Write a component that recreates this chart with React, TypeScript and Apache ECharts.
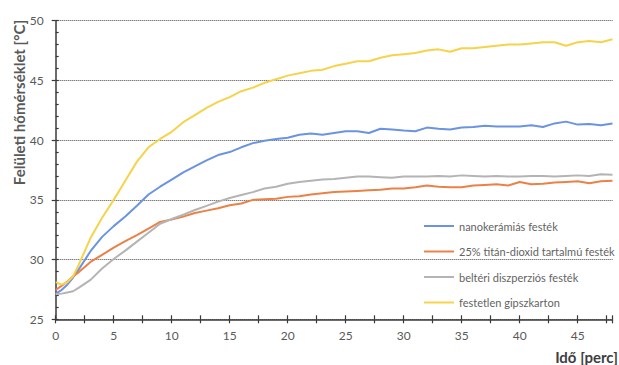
import React, { useEffect, useRef } from "react";
import * as echarts from "echarts";

// Elapsed time of the measurement, in minutes
const minutes = [
  0, 0.5, 1, 1.5, 2, 3, 4, 5, 6, 7, 8, 9, 10, 11, 12, 13, 14, 15, 16, 17, 18, 19, 20,
  21, 22, 23, 24, 25, 26, 27, 28, 29, 30, 31, 32, 33, 34, 35, 36, 37, 38, 39, 40, 41,
  42, 43, 44, 45, 46, 47, 48,
];

// Surface temperature (°C) of each coating
const nanoCeramic = [
  27.15, 27.45, 27.9, 28.5, 29.2, 30.7, 31.9, 32.8, 33.6, 34.5, 35.45, 36.1, 36.7, 37.3,
  37.8, 38.3, 38.75, 39.0, 39.4, 39.75, 39.95, 40.1, 40.2, 40.45, 40.55, 40.45, 40.6,
  40.75, 40.75, 40.6, 40.95, 40.9, 40.8, 40.75, 41.05, 40.95, 40.9, 41.05, 41.1, 41.2,
  41.15, 41.15, 41.15, 41.25, 41.1, 41.4, 41.55, 41.3, 41.35, 41.25, 41.4,
];
const titaniumDioxide = [
  27.45, 27.8, 28.15, 28.6, 28.95, 29.8, 30.4, 31.0, 31.55, 32.05, 32.6, 33.15, 33.35,
  33.6, 33.9, 34.1, 34.3, 34.55, 34.7, 35.0, 35.05, 35.1, 35.25, 35.3, 35.45, 35.55,
  35.65, 35.7, 35.75, 35.8, 35.85, 35.95, 35.95, 36.05, 36.2, 36.1, 36.05, 36.05, 36.2,
  36.25, 36.3, 36.2, 36.5, 36.3, 36.35, 36.45, 36.5, 36.55, 36.4, 36.55, 36.6,
];
const interiorDispersion = [
  27.1, 27.15, 27.25, 27.35, 27.65, 28.3, 29.25, 30.05, 30.75, 31.5, 32.25, 33.0, 33.4,
  33.75, 34.15, 34.5, 34.85, 35.15, 35.4, 35.65, 35.95, 36.1, 36.35, 36.5, 36.6, 36.7,
  36.75, 36.85, 36.95, 36.95, 36.9, 36.85, 36.95, 36.95, 36.95, 37.0, 36.95, 37.05,
  37.0, 36.95, 37.0, 36.95, 36.95, 37.0, 37.0, 36.95, 37.0, 37.05, 37.0, 37.15, 37.1,
];
const unpaintedDrywall = [
  28.1, 27.9, 28.1, 28.6, 29.6, 31.8, 33.5, 35.0, 36.6, 38.2, 39.4, 40.1, 40.7, 41.5,
  42.1, 42.7, 43.2, 43.6, 44.1, 44.4, 44.8, 45.1, 45.4, 45.6, 45.8, 45.9, 46.2, 46.4,
  46.6, 46.6, 46.9, 47.1, 47.2, 47.3, 47.5, 47.6, 47.4, 47.7, 47.7, 47.8, 47.9, 48.0,
  48.0, 48.1, 48.2, 48.2, 47.9, 48.2, 48.3, 48.2, 48.45,
];

const seriesNames = [
  "nanokerámiás festék",
  "25% titán-dioxid tartalmú festék",
  "beltéri diszperziós festék",
  "festetlen gipszkarton",
];
const seriesValues = [nanoCeramic, titaniumDioxide, interiorDispersion, unpaintedDrywall];
const seriesColors = ["#6A93E2", "#EB8147", "#B4B4B4", "#F6D34A"];

const yTitle = "Felületi hőmérséklet [°C]";
const xTitle = "Idő [perc]";

const FONT = "Lato, 'Open Sans', sans-serif";

export default function App() {
  const ref = useRef<HTMLDivElement>(null);

  useEffect(() => {
    if (!ref.current) return;
    const chart = echarts.init(ref.current, null, { renderer: "svg" });

    const series = seriesNames.map((name, i) => ({
      name,
      type: "line",
      xAxisIndex: 0,
      yAxisIndex: 0,
      data: minutes.map((t, k) => [t, seriesValues[i][k]]),
      symbol: "none",
      smooth: false,
      lineStyle: { color: seriesColors[i], width: 2 },
      itemStyle: { color: seriesColors[i] },
      z: 3 + (i === 3 ? 1 : 0),
    }));

    chart.setOption({
      animation: false,
      backgroundColor: "#ffffff",
      textStyle: { fontFamily: FONT },
      grid: { left: 55.7, right: 6.5, top: 20.7, bottom: 45.7, containLabel: false },
      xAxis: [
        {
          type: "value",
          min: 0,
          max: 48,
          interval: 2.5,
          axisLine: { show: true, lineStyle: { color: "#3a3a3a", width: 1.5 } },
          axisTick: { show: true, inside: false, length: 4, lineStyle: { color: "#3a3a3a", width: 1.2 } },
          axisLabel: {
            color: "#595959",
            fontSize: 12,
            fontFamily: FONT,
            margin: 10,
            formatter: (v: number) => (v % 5 === 0 ? String(v) : ""),
          },
          splitLine: { show: false },
        },
        {
          type: "value",
          position: "bottom",
          offset: 0,
          min: 0,
          max: 48,
          interval: 2.5,
          axisLine: { show: false },
          axisTick: { show: true, inside: true, length: 4, lineStyle: { color: "#3a3a3a", width: 1.2 } },
          axisLabel: { show: false },
          splitLine: { show: false },
        },
      ],
      yAxis: [
        {
          type: "value",
          min: 25,
          max: 50,
          interval: 5,
          axisLine: { show: true, lineStyle: { color: "#3a3a3a", width: 1.5 } },
          axisTick: { show: true, inside: false, length: 4, lineStyle: { color: "#3a3a3a", width: 1.2 } },
          axisLabel: { color: "#595959", fontSize: 12, fontFamily: FONT, margin: 12 },
          splitLine: { show: true, lineStyle: { color: "#474747", width: 1.1, type: [1, 1] } },
        },
        {
          type: "value",
          position: "left",
          offset: 0,
          min: 25,
          max: 50,
          interval: 1,
          axisLine: { show: false },
          axisTick: { show: true, inside: true, length: 3, lineStyle: { color: "#3a3a3a", width: 1.2 } },
          axisLabel: { show: false },
          splitLine: { show: false },
        },
      ],
      legend: {
        show: true,
        orient: "vertical",
        left: 419,
        top: 214,
        icon: "rect",
        itemWidth: 30,
        itemHeight: 2,
        itemGap: 11.5,
        textStyle: { color: "#636363", fontSize: 11, fontFamily: FONT, lineHeight: 14 },
        data: seriesNames,
      },
      graphic: [
        {
          type: "text",
          x: 19,
          y: 102.5,
          rotation: Math.PI / 2,
          style: {
            text: yTitle,
            fill: "#595959",
            fontSize: 15,
            fontWeight: "bold",
            fontFamily: FONT,
            textAlign: "center",
            textVerticalAlign: "middle",
          },
        },
        {
          type: "text",
          x: 586.5,
          y: 356.5,
          style: {
            text: xTitle,
            fill: "#3f3f3f",
            fontSize: 15,
            fontWeight: "bold",
            fontFamily: FONT,
            textAlign: "center",
            textVerticalAlign: "middle",
          },
        },
      ],
      series,
    });

    return () => chart.dispose();
  }, []);

  return (
    <div
      ref={ref}
      style={{ position: "fixed", left: 0, top: 0, width: 619, height: 365, background: "#fff" }}
    />
  );
}
